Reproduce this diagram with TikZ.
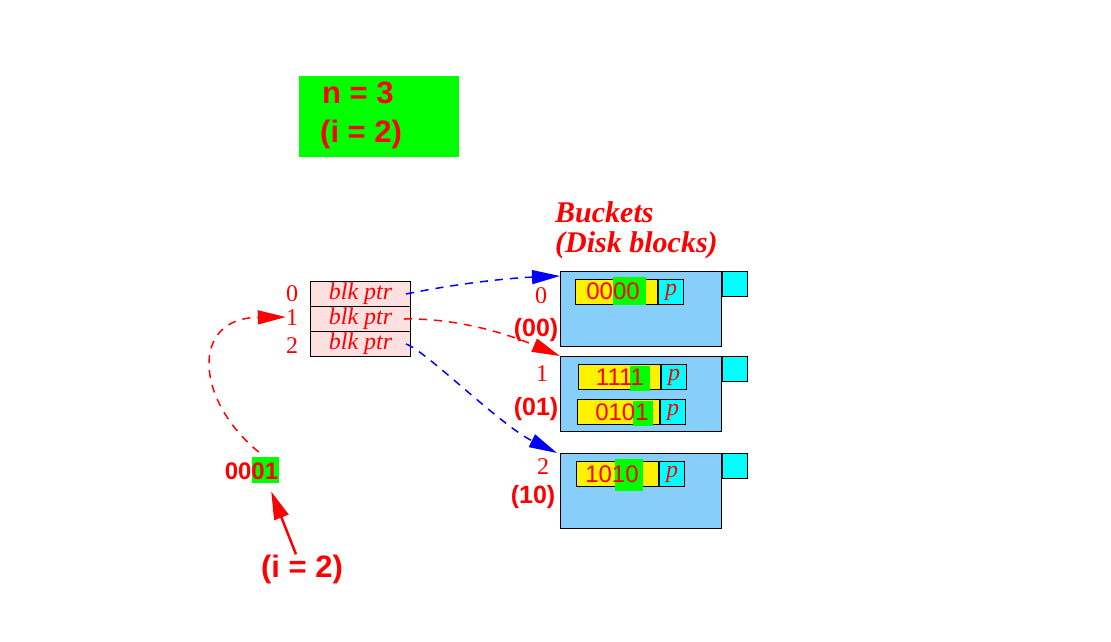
\documentclass[tikz,border=0pt]{standalone}
\usepackage{fontspec}
\setmainfont{Liberation Serif}
\setsansfont{Liberation Sans}
\usetikzlibrary{arrows.meta}

\definecolor{bktblue}{RGB}{135,206,250}
\definecolor{tblpink}{RGB}{255,224,224}
\definecolor{tagcyan}{RGB}{0,255,255}
\definecolor{hlgreen}{RGB}{0,255,0}

\tikzset{
 bigsans/.style={font=\sffamily\bfseries\fontsize{31pt}{31pt}\selectfont, text=red, inner sep=0pt},
 midsans/.style={font=\sffamily\bfseries\fontsize{25pt}{25pt}\selectfont, text=red, inner sep=0pt},
 keytxt/.style={font=\sffamily\fontsize{24pt}{24pt}\selectfont, text=red, inner sep=0pt},
 keybold/.style={font=\sffamily\bfseries\fontsize{24pt}{24pt}\selectfont, text=red, inner sep=0pt},
 numlab/.style={font=\fontsize{24pt}{24pt}\selectfont, text=red, inner sep=0pt},
 bkttitle/.style={font=\bfseries\itshape\fontsize{30pt}{30pt}\selectfont, text=red, inner sep=0pt},
 tblrow/.style={draw, line width=1pt, fill=tblpink, anchor=north west, minimum width=100pt,
  minimum height=25pt, inner sep=0pt, font=\itshape\fontsize{24pt}{24pt}\selectfont, text=red},
 bucket/.style={draw, line width=1pt, fill=bktblue, anchor=north west, minimum width=161pt,
  minimum height=75pt, inner sep=0pt},
 tagbox/.style={draw, line width=1pt, fill=tagcyan, anchor=north west, minimum size=25pt, inner sep=0pt},
 recbox/.style={draw, line width=1pt, fill=yellow, anchor=north west, minimum width=82pt,
  minimum height=25pt, inner sep=0pt},
 hilite/.style={fill=hlgreen, anchor=north west, inner sep=0pt},
 pbox/.style={draw, line width=1pt, fill=tagcyan, anchor=north west, minimum size=25pt, inner sep=0pt,
  font=\itshape\fontsize{24pt}{24pt}\selectfont, text=red},
 ptrarrow/.style={line width=1.5pt, dash pattern=on 8pt off 7pt, -{Triangle[length=28pt,width=14pt]}},
 keyarrow/.style={line width=2.5pt, red, -{Triangle[length=28pt,width=15pt]}}
}

\begin{document}
\begin{tikzpicture}[x=1pt,y=-1pt]
 \useasboundingbox (0,0) rectangle (1111,641);

 % global depth
 \node[hilite, minimum width=160pt, minimum height=81pt] (depth) at (299,76) {};
 \node[bigsans, anchor=base west] (nlab) at (322,103) {n = 3};
 \node[bigsans, anchor=base west] (ilab) at (320,142) {(i = 2)};

 % directory
 \node[tblrow] (row0) at (310,281) {blk ptr};
 \node[tblrow] (row1) at (310,306) {blk ptr};
 \node[tblrow] (row2) at (310,331) {blk ptr};
 \node[numlab, anchor=base] (lab0) at (292,301) {0};
 \node[numlab, anchor=base] (lab1) at (292,325) {1};
 \node[numlab, anchor=base] (lab2) at (292,353) {2};

 % buckets
 \node[bkttitle, anchor=base west] (title1) at (555,222) {Buckets};
 \node[bkttitle, anchor=base west] (title2) at (555,252) {(Disk blocks)};

 \node[bucket] (bkt0) at (560,271) {};
 \node[tagbox] (tag0) at (bkt0.north east) {};
 \node[bucket] (bkt1) at (560,356) {};
 \node[tagbox] (tag1) at (bkt1.north east) {};
 \node[bucket] (bkt2) at (560,453) {};
 \node[tagbox] (tag2) at (bkt2.north east) {};

 \node[numlab, anchor=base] (bn0) at (541,303) {0};
 \node[midsans, anchor=base] (bb0) at (536,336) {(00)};
 \node[numlab, anchor=base] (bn1) at (542,381) {1};
 \node[midsans, anchor=base] (bb1) at (536,415) {(01)};
 \node[numlab, anchor=base] (bn2) at (543,474) {2};
 \node[midsans, anchor=base] (bb2) at (533,503) {(10)};

 % records
 \node[recbox] (r0) at (575,279) {};
 \node[hilite, minimum width=33pt, minimum height=28pt] (h0) at (613,277) {};
 \node[pbox] (p0) at (r0.north east) {p};
 \node[keytxt] (k0) at (613,291) {0000};

 \node[recbox] (r1a) at (578,364) {};
 \node[hilite, minimum width=20pt, minimum height=25pt] (h1a) at (630,366) {};
 \node[pbox] (p1a) at (r1a.north east) {p};
 \node[keytxt] (k1a) at (620,377) {1111};

 \node[recbox] (r1b) at (577,399) {};
 \node[hilite, minimum width=20pt, minimum height=25pt] (h1b) at (633,401) {};
 \node[pbox] (p1b) at (r1b.north east) {p};
 \node[keytxt] (k1b) at (622,412) {0101};

 \node[recbox] (r2) at (576,461) {};
 \node[hilite, minimum width=28pt, minimum height=32pt] (h2) at (615,459) {};
 \node[pbox] (p2) at (r2.north east) {p};
 \node[keytxt] (k2) at (612,474) {1010};

 % pointers
 \draw[ptrarrow, blue] ([xshift=-5pt]row0.east) .. controls (460,283) and (510,278) .. ([yshift=-5pt]bkt0.north west);
 \draw[ptrarrow, red] ([xshift=-7pt]row1.east) .. controls (460,318) and (510,335) .. (bkt1.north west);
 \draw[ptrarrow, blue] ([xshift=-5pt]row2.east) .. controls (425,350) and (500,425) .. ([xshift=-3pt]bkt2.north west);

 % hash key
 \node[hilite, minimum width=27pt, minimum height=26pt] (hl01) at (252,457) {};
 \node[keybold, anchor=base] (key) at (251.5,479) {0001};
 \node[bigsans, anchor=base] (ibot) at (302,577) {(i = 2)};
 \draw[ptrarrow, red] ([xshift=-7pt,yshift=5pt]hl01.north) .. controls (195,400) and (190,318) .. (lab1.west);
 \draw[keyarrow] ([xshift=-6pt]ibot.north) -- ([xshift=5.5pt,yshift=-8pt]hl01.south);
\end{tikzpicture}
\end{document}
